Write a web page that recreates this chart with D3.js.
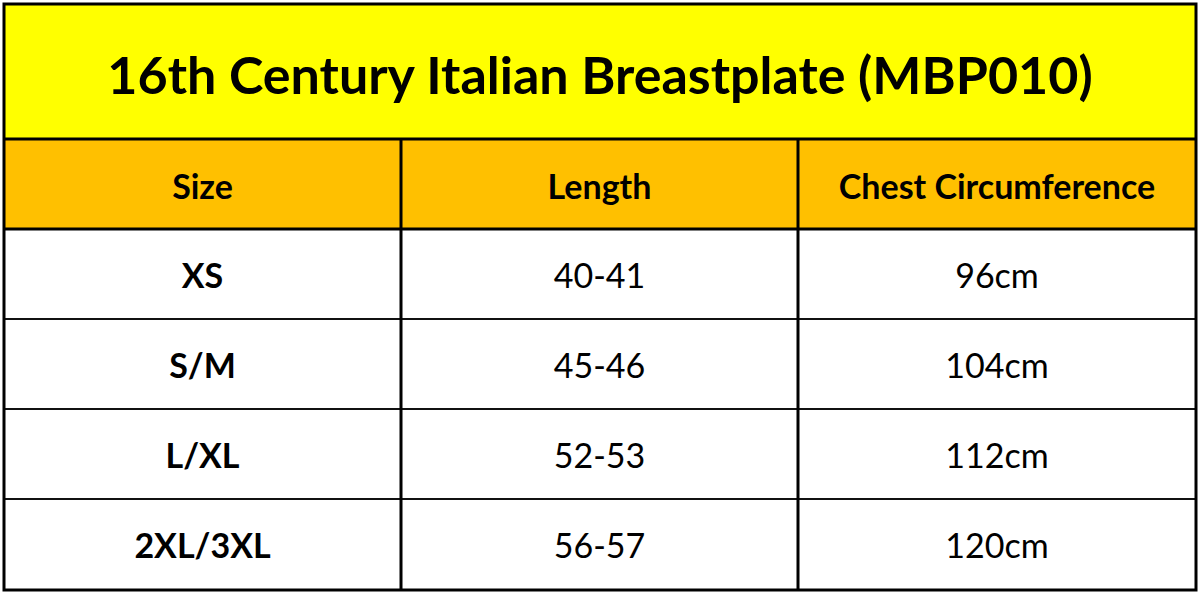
<!DOCTYPE html>
<html><head><meta charset="utf-8">
<script src="https://cdn.jsdelivr.net/npm/d3@7"></script>
<style>body{margin:0;background:#fff}</style>
</head><body><div id="chart"></div>
<script>
// Data
var title = "16th Century Italian Breastplate (MBP010)";
var headers = ["Size", "Length", "Chest Circumference"];
var sizes = ["XS", "S/M", "L/XL", "2XL/3XL"];
var lengths = ["40-41", "45-46", "52-53", "56-57"];
var chests = ["96cm", "104cm", "112cm", "120cm"];

var font = "Lato, 'Open Sans', sans-serif";
var svg = d3.select("#chart").append("svg").attr("width", 1200).attr("height", 594);

var colEdges = [4, 401, 798, 1196];
var rowEdges = [229, 319, 409, 499, 589];

// Title band
svg.append("rect").attr("x", 4).attr("y", 4).attr("width", 1192).attr("height", 135).attr("fill", "#FFFF00");
svg.append("text").attr("x", 600).attr("y", 74).attr("text-anchor", "middle").attr("dominant-baseline", "central")
  .attr("font-family", font).attr("font-weight", "bold").attr("font-size", 52).text(title);

// Header row
svg.append("rect").attr("x", 4).attr("y", 139).attr("width", 1192).attr("height", 90).attr("fill", "#FFC000");
svg.selectAll(".hdr").data(headers).enter().append("text")
  .attr("x", (d, i) => (colEdges[i] + colEdges[i + 1]) / 2).attr("y", 185)
  .attr("text-anchor", "middle").attr("dominant-baseline", "central")
  .attr("font-family", font).attr("font-weight", "bold").attr("font-size", 34).text(d => d);

// Body rows
var rows = sizes.map((s, i) => [s, lengths[i], chests[i]]);
rows.forEach((r, ri) => {
  r.forEach((v, ci) => {
    svg.append("text")
      .attr("x", (colEdges[ci] + colEdges[ci + 1]) / 2)
      .attr("y", (rowEdges[ri] + rowEdges[ri + 1]) / 2)
      .attr("text-anchor", "middle").attr("dominant-baseline", "central")
      .attr("font-family", font).attr("font-weight", ci === 0 ? "bold" : "normal")
      .attr("font-size", 34).text(v);
  });
});

// Grid lines
rowEdges.slice(1, 4).forEach(y => svg.append("line").attr("x1", 4).attr("x2", 1196).attr("y1", y).attr("y2", y)
  .attr("stroke", "#111").attr("stroke-width", 2));
[139, 229].forEach(y => svg.append("line").attr("x1", 4).attr("x2", 1196).attr("y1", y).attr("y2", y)
  .attr("stroke", "#000").attr("stroke-width", 3));
[401, 798].forEach(cx => svg.append("line").attr("x1", cx).attr("x2", cx).attr("y1", 139).attr("y2", 589)
  .attr("stroke", "#000").attr("stroke-width", 3));
svg.append("rect").attr("x", 4).attr("y", 4).attr("width", 1192).attr("height", 586)
  .attr("fill", "none").attr("stroke", "#000").attr("stroke-width", 3);
</script></body></html>
